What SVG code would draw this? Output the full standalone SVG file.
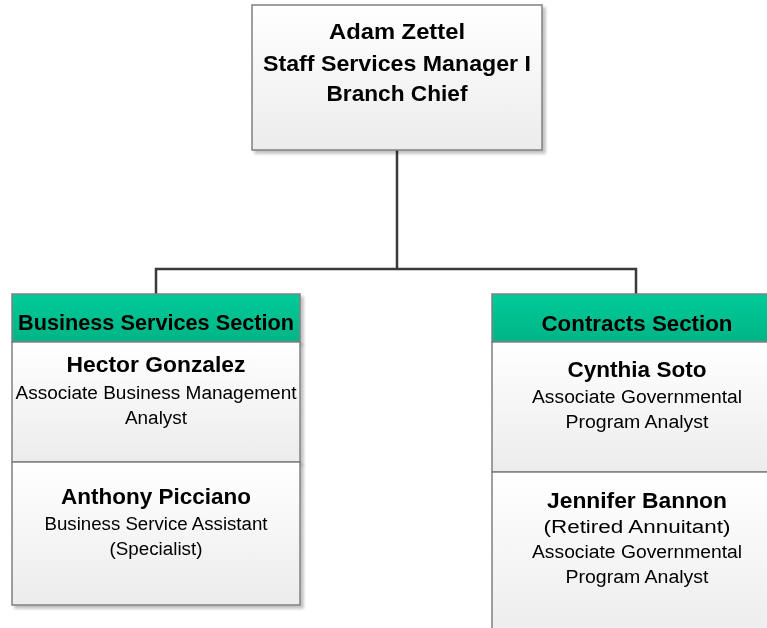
<svg xmlns="http://www.w3.org/2000/svg" width="767" height="628" viewBox="0 0 767 628">
<defs>
<linearGradient id="body" x1="0" y1="0" x2="0" y2="1">
<stop offset="0" stop-color="#ffffff"/>
<stop offset="1" stop-color="#ececec"/>
</linearGradient>
<linearGradient id="head" x1="0" y1="0" x2="0" y2="1">
<stop offset="0" stop-color="#00cc99"/>
<stop offset="1" stop-color="#00b486"/>
</linearGradient>
<filter id="sh" x="-5%" y="-5%" width="115%" height="115%">
<feGaussianBlur in="SourceAlpha" stdDeviation="1.5"/>
<feOffset dx="3" dy="3" result="b"/>
<feComponentTransfer><feFuncA type="linear" slope="0.25"/></feComponentTransfer>
<feMerge><feMergeNode/><feMergeNode in="SourceGraphic"/></feMerge>
</filter>
</defs>
<style>
.box{fill:url(#body);stroke:#808080;stroke-width:1.5}
.hd{fill:url(#head);stroke:#808080;stroke-width:1.5}
.conn{fill:none;stroke:#3a3a3a;stroke-width:2.5}
text{font-family:"Liberation Sans",Arial,sans-serif;fill:#000;text-anchor:middle}
.t{font-weight:bold;font-size:22px}
.b{font-weight:bold;font-size:22px}
.r{font-size:18px}
</style>
<rect width="767" height="628" fill="#ffffff"/>
<g id="connectors">
<path class="conn" d="M397,150 V269 M156,294 V269 H636 V294"/>
</g>
<g id="chief" filter="url(#sh)">
<rect class="box" x="252" y="5" width="290" height="145"/>
<text class="t" x="397" y="39" textLength="136" lengthAdjust="spacingAndGlyphs">Adam Zettel</text>
<text class="t" x="397" y="71" textLength="268" lengthAdjust="spacingAndGlyphs">Staff Services Manager I</text>
<text class="t" x="397" y="101" textLength="141" lengthAdjust="spacingAndGlyphs">Branch Chief</text>
</g>
<g id="business-section" filter="url(#sh)">
<rect class="hd" x="12" y="294" width="288" height="48"/>
<text class="b" x="156" y="330" textLength="276" lengthAdjust="spacingAndGlyphs">Business Services Section</text>
</g>
<g id="hector" filter="url(#sh)">
<rect class="box" x="12" y="342" width="288" height="120"/>
<text class="b" x="156" y="372" textLength="179" lengthAdjust="spacingAndGlyphs">Hector Gonzalez</text>
<text class="r" x="156" y="399" textLength="281" lengthAdjust="spacingAndGlyphs">Associate Business Management</text>
<text class="r" x="156" y="424" textLength="62" lengthAdjust="spacingAndGlyphs">Analyst</text>
</g>
<g id="anthony" filter="url(#sh)">
<rect class="box" x="12" y="462" width="288" height="143"/>
<text class="b" x="156" y="504" textLength="190" lengthAdjust="spacingAndGlyphs">Anthony Picciano</text>
<text class="r" x="156" y="530" textLength="223" lengthAdjust="spacingAndGlyphs">Business Service Assistant</text>
<text class="r" x="156" y="555" textLength="93" lengthAdjust="spacingAndGlyphs">(Specialist)</text>
</g>
<g id="contracts-section" filter="url(#sh)">
<rect class="hd" x="492" y="294" width="290" height="48"/>
<text class="b" x="637" y="331" textLength="191" lengthAdjust="spacingAndGlyphs">Contracts Section</text>
</g>
<g id="cynthia" filter="url(#sh)">
<rect class="box" x="492" y="342" width="290" height="130"/>
<text class="b" x="637" y="377" textLength="139" lengthAdjust="spacingAndGlyphs">Cynthia Soto</text>
<text class="r" x="637" y="403" textLength="210" lengthAdjust="spacingAndGlyphs">Associate Governmental</text>
<text class="r" x="637" y="428" textLength="143" lengthAdjust="spacingAndGlyphs">Program Analyst</text>
</g>
<g id="jennifer" filter="url(#sh)">
<rect class="box" x="492" y="472" width="290" height="170"/>
<text class="b" x="637" y="508" textLength="180" lengthAdjust="spacingAndGlyphs">Jennifer Bannon</text>
<text class="r" x="637" y="533" textLength="187" lengthAdjust="spacingAndGlyphs">(Retired Annuitant)</text>
<text class="r" x="637" y="558" textLength="210" lengthAdjust="spacingAndGlyphs">Associate Governmental</text>
<text class="r" x="637" y="583" textLength="143" lengthAdjust="spacingAndGlyphs">Program Analyst</text>
</g>
</svg>
